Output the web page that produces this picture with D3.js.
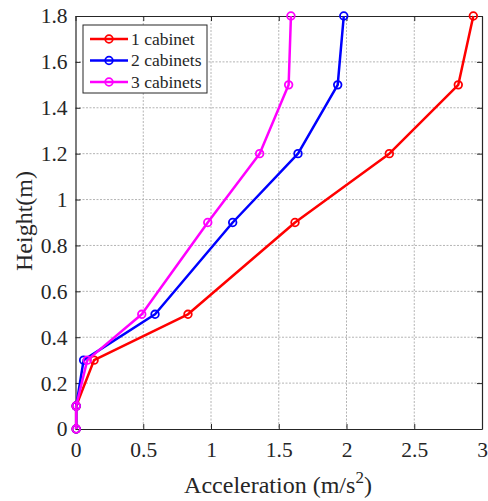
<!DOCTYPE html>
<html><head><meta charset="utf-8">
<script src="https://cdn.jsdelivr.net/npm/d3@7"></script>
<style>body{margin:0;background:#fff}svg{display:block}</style>
</head><body><svg id="c" width="488" height="501"></svg>
<script>
const heights = [0, 0.1, 0.3, 0.5, 0.9, 1.2, 1.5, 1.8];
const cab1 = [0.005, 0.005, 0.137, 0.83, 1.62, 2.316, 2.825, 2.936];
const cab2 = [0.005, 0.005, 0.06, 0.587, 1.16, 1.642, 1.935, 1.98];
const cab3 = [0.005, 0.005, 0.087, 0.489, 0.976, 1.359, 1.573, 1.59];
const seriesNames = ["1 cabinet", "2 cabinets", "3 cabinets"];
const seriesColors = ["#ff0000", "#0000ff", "#ff00ff"];
const xTicks = [0, 0.5, 1, 1.5, 2, 2.5, 3];
const yTicks = [0, 0.2, 0.4, 0.6, 0.8, 1, 1.2, 1.4, 1.6, 1.8];

const FONT = "Liberation Serif";
const INK = "#262626";
const svg = d3.select("#c");
const L = 75.5, R = 482, T = 16, B = 429;
const x = d3.scaleLinear().domain([0, 3]).range([L, R]);
const y = d3.scaleLinear().domain([0, 1.8]).range([B, T]);

// grid
const g = svg.append("g");
g.selectAll(".gx").data(xTicks.slice(1, -1)).enter().append("line")
  .attr("x1", d => x(d)).attr("x2", d => x(d)).attr("y1", T).attr("y2", B)
  .attr("stroke", "#b4b4b4").attr("stroke-width", 1).attr("stroke-dasharray", "2,1.5");
g.selectAll(".gy").data(yTicks.slice(1, -1)).enter().append("line")
  .attr("y1", d => y(d)).attr("y2", d => y(d)).attr("x1", L).attr("x2", R)
  .attr("stroke", "#b4b4b4").attr("stroke-width", 1).attr("stroke-dasharray", "2,1.5");

// axes
const fmt = d => String(d);
const ax = svg.append("g").attr("transform", `translate(0,${B})`)
  .call(d3.axisBottom(x).tickValues(xTicks).tickFormat(fmt).tickSizeInner(-5).tickSizeOuter(0).tickPadding(13));
const ay = svg.append("g").attr("transform", `translate(${L},0)`)
  .call(d3.axisLeft(y).tickValues(yTicks).tickFormat(fmt).tickSizeInner(-5).tickSizeOuter(0).tickPadding(8));
const at = svg.append("g").attr("transform", `translate(0,${T})`)
  .call(d3.axisTop(x).tickValues(xTicks).tickFormat("").tickSizeInner(-5).tickSizeOuter(0));
const ar = svg.append("g").attr("transform", `translate(${R},0)`)
  .call(d3.axisRight(y).tickValues(yTicks).tickFormat("").tickSizeInner(-5).tickSizeOuter(0));
[ax, ay, at, ar].forEach(a => {
  a.attr("font-family", FONT).attr("font-size", 21.5);
  a.selectAll("path").attr("stroke", INK).attr("stroke-width", 1.2);
  a.selectAll("line").attr("stroke", INK).attr("stroke-width", 1);
  a.selectAll("text").attr("font-family", FONT).attr("font-size", 21.5).attr("fill", INK);
});

// series
const data = [cab1, cab2, cab3];
const line = d3.line().x(d => x(d[0])).y(d => y(d[1]));
data.forEach((s, i) => {
  const pts = s.map((v, j) => [v, heights[j]]);
  svg.append("path").attr("d", line(pts)).attr("fill", "none")
    .attr("stroke", seriesColors[i]).attr("stroke-width", 2.5).attr("stroke-linejoin", "round");
  svg.selectAll(null).data(pts).enter().append("circle")
    .attr("cx", d => x(d[0])).attr("cy", d => y(d[1])).attr("r", 3.8)
    .attr("fill", "none").attr("stroke", seriesColors[i]).attr("stroke-width", 1.8);
});

// legend
const lg = svg.append("g");
lg.append("rect").attr("x", 83).attr("y", 25).attr("width", 124).attr("height", 68)
  .attr("fill", "#fff").attr("stroke", INK).attr("stroke-width", 1);
seriesNames.forEach((n, i) => {
  const yy = 39 + i * 21.5;
  lg.append("line").attr("x1", 90).attr("x2", 128).attr("y1", yy).attr("y2", yy)
    .attr("stroke", seriesColors[i]).attr("stroke-width", 2.5);
  lg.append("circle").attr("cx", 109).attr("cy", yy).attr("r", 3.8)
    .attr("fill", "none").attr("stroke", seriesColors[i]).attr("stroke-width", 1.8);
  lg.append("text").attr("x", 131).attr("y", yy + 5.5)
    .attr("font-family", FONT).attr("font-size", 17.5).attr("fill", INK).text(n);
});

// axis titles
const xl = svg.append("text").attr("x", 278).attr("y", 493).attr("text-anchor", "middle")
  .attr("font-family", FONT).attr("font-size", 24).attr("fill", INK);
xl.append("tspan").text("Acceleration (m/s");
xl.append("tspan").attr("dy", -10).attr("font-size", 17).text("2");
xl.append("tspan").attr("dy", 10).text(")");
svg.append("text").attr("transform", "translate(32,221) rotate(-90)").attr("text-anchor", "middle")
  .attr("font-family", FONT).attr("font-size", 24).attr("fill", INK).text("Height(m)");
</script></body></html>
